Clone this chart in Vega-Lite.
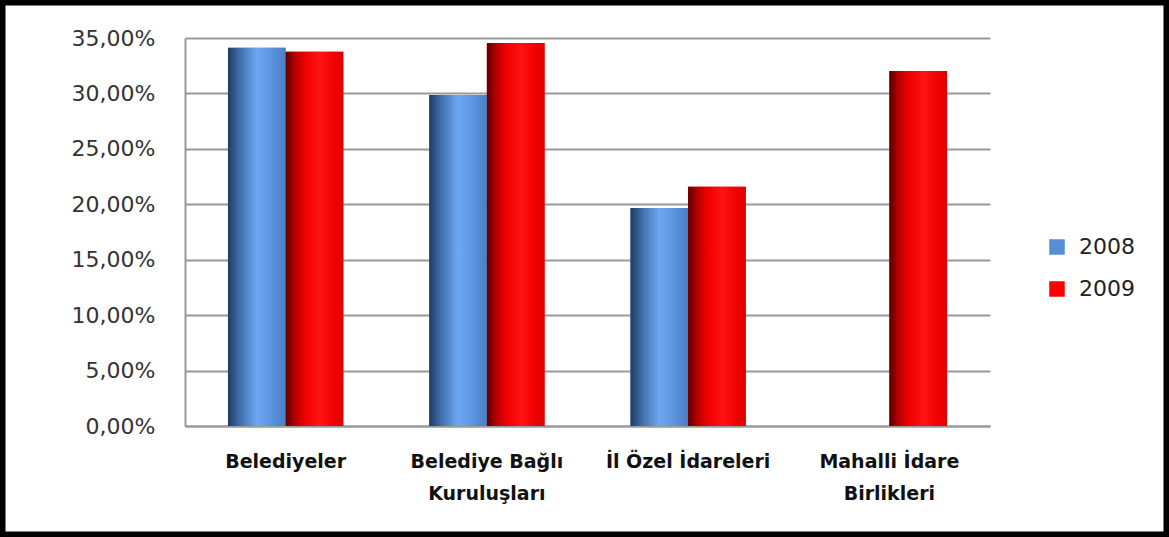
{
  "$schema": "https://vega.github.io/schema/vega-lite/v6.json",
  "width": 1169,
  "height": 537,
  "autosize": "none",
  "padding": 0,
  "background": "white",
  "config": {
    "view": {"stroke": "black", "strokeWidth": 11, "fill": "white"},
    "font": "DejaVu Sans"
  },
  "data": {
    "values": [
      {"kurum": "Belediyeler", "yil": "2008", "oran": 0.3412},
      {"kurum": "Belediyeler", "yil": "2009", "oran": 0.3376},
      {"kurum": "Belediye Bağlı Kuruluşları", "yil": "2008", "oran": 0.2986},
      {"kurum": "Belediye Bağlı Kuruluşları", "yil": "2009", "oran": 0.3455},
      {"kurum": "İl Özel İdareleri", "yil": "2008", "oran": 0.1966},
      {"kurum": "İl Özel İdareleri", "yil": "2009", "oran": 0.2159},
      {"kurum": "Mahalli İdare Birlikleri", "yil": "2009", "oran": 0.3202}
    ]
  },
  "encoding": {
    "x": {
      "field": "kurum",
      "type": "nominal",
      "sort": null,
      "scale": {"range": [185, 990], "paddingInner": 0.427, "paddingOuter": 0.2135},
      "axis": {
        "title": null,
        "orient": "bottom",
        "offset": -111,
        "labelAngle": 0,
        "domainColor": "#999999",
        "domainWidth": 2,
        "ticks": false,
        "labelPadding": 26,
        "labelFontSize": 19,
        "labelFontWeight": "bold",
        "labelColor": "#111111",
        "labelLineHeight": 32,
        "labelBaseline": "top",
        "labelExpr": "datum.value == 'Belediye Bağlı Kuruluşları' ? ['Belediye Bağlı', 'Kuruluşları'] : datum.value == 'Mahalli İdare Birlikleri' ? ['Mahalli İdare', 'Birlikleri'] : datum.value"
      }
    },
    "xOffset": {
      "field": "yil",
      "type": "nominal",
      "scale": {"domain": ["2008", "2009"], "paddingInner": 0, "paddingOuter": 0}
    },
    "y": {
      "field": "oran",
      "type": "quantitative",
      "scale": {"domain": [0, 0.35], "range": [426, 38], "nice": false},
      "axis": {
        "title": null,
        "orient": "left",
        "offset": -185,
        "values": [0, 0.05, 0.1, 0.15, 0.2, 0.25, 0.3, 0.35],
        "labelExpr": "replace(format(datum.value, '.2%'), '.', ',')",
        "grid": true,
        "gridColor": "#999999",
        "gridWidth": 2,
        "domainColor": "#999999",
        "domainWidth": 2,
        "ticks": false,
        "labelPadding": 30,
        "labelFontSize": 22,
        "labelColor": "#333333"
      }
    }
  },
  "layer": [
    {
      "mark": {"type": "bar"},
      "encoding": {
        "color": {
          "field": "yil",
          "type": "nominal",
          "scale": {"domain": ["2008", "2009"], "range": ["#558ED5", "#FF0000"]},
          "legend": {
            "title": null,
            "orient": "none",
            "legendX": 1046,
            "legendY": 236,
            "symbolType": "square",
            "symbolSize": 240,
            "symbolStrokeWidth": 0,
            "labelFontSize": 22,
            "labelColor": "#222222",
            "rowPadding": 20,
            "labelOffset": 11
          }
        }
      }
    },
    {
      "transform": [{"filter": "datum.yil == '2008'"}],
      "mark": {
        "type": "bar",
        "fill": {
          "gradient": "linear",
          "x1": 0, "x2": 1, "y1": 0, "y2": 0,
          "stops": [
            {"offset": 0, "color": "#1F3B62"},
            {"offset": 0.2, "color": "#3F6DAA"},
            {"offset": 0.5, "color": "#6EA8F2"},
            {"offset": 0.75, "color": "#5C94E0"},
            {"offset": 1, "color": "#4A7EC4"}
          ]
        }
      }
    },
    {
      "transform": [{"filter": "datum.yil == '2009'"}],
      "mark": {
        "type": "bar",
        "fill": {
          "gradient": "linear",
          "x1": 0, "x2": 1, "y1": 0, "y2": 0,
          "stops": [
            {"offset": 0, "color": "#5C0000"},
            {"offset": 0.15, "color": "#B00000"},
            {"offset": 0.35, "color": "#F20000"},
            {"offset": 0.6, "color": "#FF1414"},
            {"offset": 0.85, "color": "#F00000"},
            {"offset": 1, "color": "#E00000"}
          ]
        }
      }
    }
  ]
}
